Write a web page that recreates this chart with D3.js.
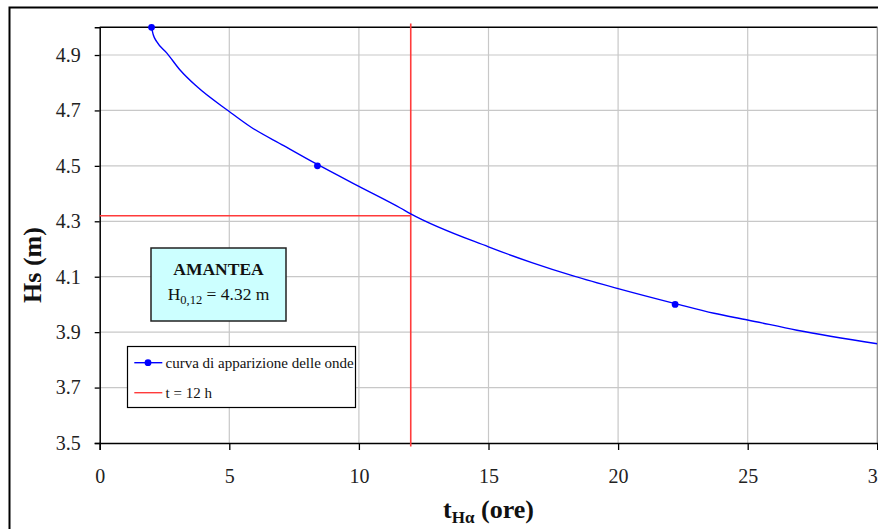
<!DOCTYPE html>
<html>
<head>
<meta charset="utf-8">
<script src="https://cdn.jsdelivr.net/npm/d3@7/dist/d3.min.js"></script>
<style>
  html, body { margin: 0; padding: 0; background: #fff; overflow: hidden; }
  svg text { font-family: "Liberation Serif", "Tinos", "DejaVu Serif", "Noto Serif", "Times New Roman", Times, serif !important; }
</style>
</head>
<body>
<svg id="chart" width="878" height="529"></svg>
<script>
// ---- data ----
const curveT = [2.0, 2.07, 2.2, 2.6, 3.1, 3.75, 5.0, 5.8, 7.1, 8.4, 10.0, 11.6, 12.0, 15.0, 16.7, 18.3, 20.0, 22.2, 23.7, 25.0, 26.9, 30.0];
const curveH = [5.0, 4.972, 4.948, 4.906, 4.846, 4.786, 4.696, 4.642, 4.573, 4.505, 4.426, 4.348, 4.327, 4.208, 4.150, 4.102, 4.057, 4.003, 3.968, 3.944, 3.907, 3.858];
const markerT = [2.0, 8.4, 22.2];
const markerH = [5.0, 4.5, 4.0];
const refT = 12;
const refH = 4.32;
const refVertH = [3.487, 5.014];
const xTicks = [0, 5, 10, 15, 20, 25, 30];
const yTicks = [3.5, 3.7, 3.9, 4.1, 4.3, 4.5, 4.7, 4.9];
const xDomain = [0, 30];
const yDomain = [3.5, 5.0];
const seriesNames = ["curva di apparizione delle onde", "t = 12 h"];
const boxTitle = "AMANTEA";

// ---- layout ----
const W = 878, H = 529;
const plot = { left: 99.7, top: 27.3, right: 877.3, bottom: 443 };
const svg = d3.select("#chart");

const x = d3.scaleLinear().domain(xDomain).range([plot.left, plot.right]);
const y = d3.scaleLinear().domain(yDomain).range([plot.bottom, plot.top]);

// outer chart border
svg.append("rect").attr("x", 9.5).attr("y", 7.5).attr("width", W + 20).attr("height", H + 20)
  .attr("fill", "#fff").attr("stroke", "#000").attr("stroke-width", 2);

svg.append("defs").append("clipPath").attr("id", "clip")
  .append("rect").attr("x", plot.left).attr("y", plot.top)
  .attr("width", plot.right - plot.left).attr("height", plot.bottom - plot.top);

// gridlines
const grid = svg.append("g");
grid.selectAll("line.h").data(yTicks.filter(d => d > yDomain[0])).join("line")
  .attr("x1", plot.left).attr("x2", plot.right)
  .attr("y1", d => y(d)).attr("y2", d => y(d))
  .attr("stroke", "#c8c8c8").attr("stroke-width", 1.2);
grid.selectAll("line.v").data(xTicks.filter(d => d > xDomain[0] && d < xDomain[1])).join("line")
  .attr("y1", plot.top).attr("y2", plot.bottom)
  .attr("x1", d => x(d)).attr("x2", d => x(d))
  .attr("stroke", "#c8c8c8").attr("stroke-width", 1.2);

// plot border top / right
svg.append("line").attr("x1", plot.left).attr("x2", plot.right).attr("y1", plot.top).attr("y2", plot.top)
  .attr("stroke", "#000").attr("stroke-width", 1.5);
svg.append("line").attr("x1", plot.right).attr("x2", plot.right).attr("y1", plot.top).attr("y2", plot.bottom)
  .attr("stroke", "#888").attr("stroke-width", 1.2);

// axes
const xAxis = svg.append("g").attr("transform", `translate(0,${plot.bottom})`)
  .call(d3.axisBottom(x).tickValues(xTicks).tickFormat(d3.format("d")).tickSize(7).tickPadding(19));
const yAxis = svg.append("g").attr("transform", `translate(${plot.left},0)`)
  .call(d3.axisLeft(y).tickValues(yTicks).tickFormat(d3.format(".1f")).tickSize(5).tickPadding(14));
[xAxis, yAxis].forEach(a => {
  a.attr("font-family", null);
  a.select(".domain").attr("stroke", "#000").attr("stroke-width", 1.5);
  a.selectAll(".tick line").attr("stroke", "#000").attr("stroke-width", 1.3);
  a.selectAll(".tick text").attr("font-size", 20).attr("fill", "#222");
});

// reference red lines
svg.append("line")
  .attr("x1", x(xDomain[0])).attr("x2", x(refT)).attr("y1", y(refH)).attr("y2", y(refH))
  .attr("stroke", "#ff3b3b").attr("stroke-width", 1.6);
svg.append("line")
  .attr("x1", x(refT)).attr("x2", x(refT)).attr("y1", y(refVertH[0])).attr("y2", y(refVertH[1]))
  .attr("stroke", "#ff3b3b").attr("stroke-width", 1.6);

// curve
const pts = curveT.map((t, i) => [t, curveH[i]]);
svg.append("path").datum(pts)
  .attr("clip-path", "url(#clip)")
  .attr("d", d3.line().x(d => x(d[0])).y(d => y(d[1])).curve(d3.curveMonotoneX))
  .attr("fill", "none").attr("stroke", "#0000ff").attr("stroke-width", 1.4);
svg.selectAll("circle.m").data(markerT.map((t, i) => [t, markerH[i]])).join("circle")
  .attr("cx", d => x(d[0])).attr("cy", d => y(d[1])).attr("r", 3.4).attr("fill", "#0000ff");

// annotation box
const box = svg.append("g");
box.append("rect").attr("x", 151).attr("y", 248).attr("width", 135).attr("height", 73)
  .attr("fill", "#ccffff").attr("stroke", "#222").attr("stroke-width", 1.5);
box.append("text").attr("x", 218.5).attr("y", 274.5).attr("text-anchor", "middle")
  .attr("font-size", 17.5).attr("font-weight", "bold").attr("fill", "#111").text(boxTitle);
const t2 = box.append("text").attr("x", 218.5).attr("y", 300).attr("text-anchor", "middle")
  .attr("font-size", 17.5).attr("fill", "#111");
t2.append("tspan").text("H");
t2.append("tspan").attr("font-size", 12.5).attr("dy", 4).text("0,12");
t2.append("tspan").attr("dy", -4).text(" = " + refH.toFixed(2) + " m");

// legend
const lg = svg.append("g");
lg.append("rect").attr("x", 127.5).attr("y", 346.5).attr("width", 228).attr("height", 61)
  .attr("fill", "#fff").attr("stroke", "#000").attr("stroke-width", 1.2);
lg.append("line").attr("x1", 134.3).attr("x2", 162.3).attr("y1", 362.7).attr("y2", 362.7)
  .attr("stroke", "#0000ff").attr("stroke-width", 1.4);
lg.append("circle").attr("cx", 148).attr("cy", 362.7).attr("r", 3.4).attr("fill", "#0000ff");
lg.append("text").attr("x", 165.5).attr("y", 367.5).attr("font-size", 15).attr("fill", "#111").text(seriesNames[0]);
lg.append("line").attr("x1", 134.3).attr("x2", 162.3).attr("y1", 392.7).attr("y2", 392.7)
  .attr("stroke", "#ff3b3b").attr("stroke-width", 1.4);
lg.append("text").attr("x", 165.5).attr("y", 397.5).attr("font-size", 15).attr("fill", "#111").text(seriesNames[1]);

// axis titles
svg.append("text").attr("transform", "translate(41,265) rotate(-90)").attr("text-anchor", "middle")
  .attr("font-size", 26).attr("font-weight", "bold").attr("fill", "#111").text("Hs (m)");
const xt = svg.append("text").attr("x", 488.5).attr("y", 518).attr("text-anchor", "middle")
  .attr("font-size", 26).attr("font-weight", "bold").attr("fill", "#111");
xt.append("tspan").text("t");
xt.append("tspan").attr("font-size", 17).attr("dy", 5).text("Hα");
xt.append("tspan").attr("dy", -5).text(" (ore)");
</script>
</body>
</html>
